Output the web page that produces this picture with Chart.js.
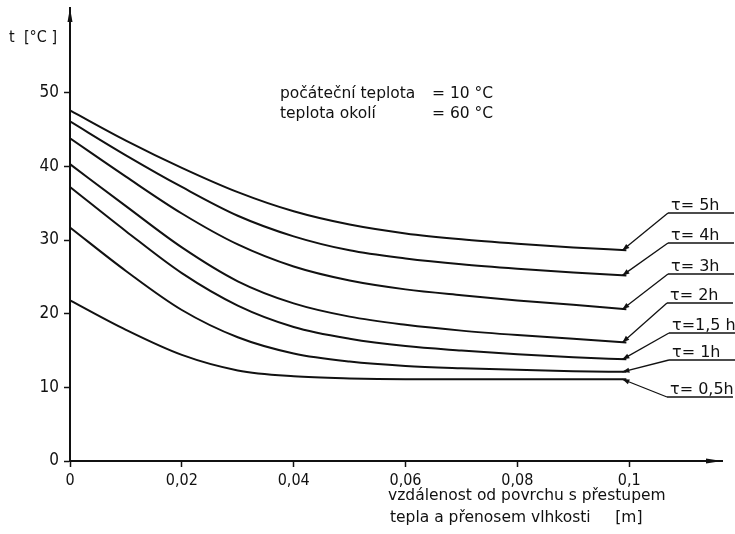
<!DOCTYPE html>
<html>
<head>
<meta charset="utf-8">
<script src="https://cdn.jsdelivr.net/npm/chart.js@4.4.1/dist/chart.umd.min.js"></script>
<style>
  html, body { margin: 0; padding: 0; background: #ffffff; }
  #wrap { width: 735px; height: 534px; position: relative; }
  canvas { display: block; }
</style>
</head>
<body>
<div id="wrap"><canvas id="c" width="735" height="534"></canvas></div>
<script>
// ---- data ----
const xValues = [0, 0.01, 0.02, 0.03, 0.04, 0.05, 0.06, 0.07, 0.08, 0.09, 0.0995];
const t5h  = [47.6, 43.5, 39.8, 36.5, 33.9, 32.1, 30.9, 30.1, 29.5, 29.0, 28.6];
const t4h  = [46.1, 41.5, 37.2, 33.3, 30.5, 28.6, 27.5, 26.7, 26.1, 25.6, 25.2];
const t3h  = [43.8, 38.6, 33.6, 29.4, 26.4, 24.5, 23.3, 22.5, 21.8, 21.2, 20.6];
const t2h  = [40.3, 34.6, 29.0, 24.4, 21.4, 19.6, 18.5, 17.7, 17.1, 16.6, 16.1];
const t15h = [37.2, 31.2, 25.5, 21.1, 18.2, 16.6, 15.6, 15.0, 14.5, 14.1, 13.8];
const t1h  = [31.7, 25.8, 20.5, 16.8, 14.6, 13.5, 12.9, 12.6, 12.4, 12.2, 12.1];
const t05h = [21.8, 17.8, 14.4, 12.3, 11.5, 11.2, 11.1, 11.1, 11.1, 11.1, 11.1];
const seriesLabels = ['τ= 5h', 'τ= 4h', 'τ= 3h', 'τ= 2h', 'τ=1,5 h', 'τ= 1h', 'τ= 0,5h'];
const yTicks = [0, 10, 20, 30, 40, 50];
const xTicks = [0, 0.02, 0.04, 0.06, 0.08, 0.1];
const xTickLabels = ['0', '0,02', '0,04', '0,06', '0,08', '0,1'];
const yTitle = ['t', '[°C ]'];
const xTitle = ['vzdálenost od povrchu s přestupem', 'tepla a přenosem vlhkosti     [m]'];
const noteLeft = ['počáteční teplota', 'teplota okolí'];
const noteRight = ['= 10 °C', '= 60 °C'];

const allSeries = [t5h, t4h, t3h, t2h, t15h, t1h, t05h];
const INK = '#111111';
const FONT = "'DejaVu Sans', sans-serif";
const FONT_C = "'DejaVu Sans Condensed', 'DejaVu Sans', sans-serif";

function toPoints(arr) { return arr.map((v, i) => ({ x: xValues[i], y: v })); }

const datasets = allSeries.map((s, i) => ({
  label: seriesLabels[i],
  data: toPoints(s),
  showLine: true,
  borderColor: INK,
  borderWidth: 2,
  pointRadius: 0,
  fill: false,
  cubicInterpolationMode: 'monotone'
}));

function arrowHead(ctx, fx, fy, tx, ty, len, half) {
  const a = Math.atan2(ty - fy, tx - fx);
  ctx.beginPath();
  ctx.moveTo(tx, ty);
  ctx.lineTo(tx - len * Math.cos(a) + half * Math.sin(a), ty - len * Math.sin(a) - half * Math.cos(a));
  ctx.lineTo(tx - len * Math.cos(a) - half * Math.sin(a), ty - len * Math.sin(a) + half * Math.cos(a));
  ctx.closePath();
  ctx.fill();
}

const decorPlugin = {
  id: 'decor',
  afterDraw(chart, args, opts) {
    const ctx = chart.ctx;
    const xs = chart.scales.x, ys = chart.scales.y;
    ctx.save();
    ctx.fillStyle = INK;
    ctx.strokeStyle = INK;

    // axis arrows
    arrowHead(ctx, xs.left, ys.bottom, xs.right, ys.bottom, 16, 2.5);
    arrowHead(ctx, xs.left, ys.bottom, xs.left, ys.top, 14, 2.5);

    // axis titles
    ctx.textBaseline = 'alphabetic';
    ctx.textAlign = 'left';
    ctx.font = '16px ' + FONT_C;
    ctx.fillText(yTitle[0], opts.yTitle.x0, opts.yTitle.y);
    ctx.fillText(yTitle[1], opts.yTitle.x1, opts.yTitle.y);
    ctx.font = '15.5px ' + FONT;
    ctx.fillText(xTitle[0], opts.xTitle.x, opts.xTitle.y0);
    ctx.fillText(xTitle[1], opts.xTitle.x + 2, opts.xTitle.y1);

    // note
    ctx.font = '15.5px ' + FONT;
    for (let i = 0; i < noteLeft.length; i++) {
      ctx.fillText(noteLeft[i], opts.note.x0, opts.note.y[i]);
      ctx.fillText(noteRight[i], opts.note.x1, opts.note.y[i]);
    }

    // series labels with leader lines
    ctx.font = '16px ' + FONT;
    ctx.lineWidth = 1.3;
    chart.data.datasets.forEach((ds, i) => {
      const L = opts.labels[i];
      const last = ds.data[ds.data.length - 1];
      const tx = xs.getPixelForValue(last.x) - 4;
      const ty = ys.getPixelForValue(last.y);
      ctx.beginPath();
      ctx.moveTo(L.ux, L.uy);
      ctx.lineTo(L.ux + 66, L.uy);
      ctx.stroke();
      ctx.beginPath();
      ctx.moveTo(L.ux, L.uy);
      ctx.lineTo(tx, ty);
      ctx.stroke();
      arrowHead(ctx, L.ux, L.uy, tx, ty, 7, 2.6);
      ctx.fillText(ds.label, L.ux + 3, L.uy - 3);
    });
    ctx.restore();
  }
};

new Chart(document.getElementById('c'), {
  type: 'scatter',
  data: { datasets },
  plugins: [decorPlugin],
  options: {
    responsive: false,
    animation: false,
    devicePixelRatio: 1,
    layout: { padding: { left: 0, right: 13, top: 8, bottom: 0 } },
    plugins: {
      legend: { display: false },
      tooltip: { enabled: false },
      decor: {
        yTitle: { x0: 9, x1: 24, y: 42 },
        xTitle: { x: 388, y0: 500, y1: 522 },
        note: { x0: 280, x1: 432, y: [98, 118] },
        labels: [
          { ux: 668, uy: 213 },
          { ux: 668, uy: 243 },
          { ux: 668, uy: 274 },
          { ux: 667, uy: 303 },
          { ux: 669, uy: 333 },
          { ux: 669, uy: 360 },
          { ux: 667, uy: 397 }
        ]
      }
    },
    scales: {
      x: {
        type: 'linear',
        min: 0,
        max: 0.1166,
        afterFit(s) { s.height = 73; s.paddingLeft = 0; s.paddingRight = 0; },
        afterBuildTicks(s) { s.ticks = xTicks.map(v => ({ value: v })); },
        border: { display: true, color: INK, width: 2 },
        grid: { display: true, drawOnChartArea: false, drawTicks: true, tickLength: 6, tickColor: INK, tickWidth: 1.5 },
        ticks: {
          color: INK,
          font: { family: FONT_C, size: 16 },
          padding: 4,
          maxRotation: 0,
          autoSkip: false,
          callback: (v, i) => xTickLabels[i]
        }
      },
      y: {
        type: 'linear',
        min: 0,
        max: 61.5,
        afterFit(s) { s.width = 70; s.paddingTop = 0; s.paddingBottom = 0; },
        afterBuildTicks(s) { s.ticks = yTicks.map(v => ({ value: v })); },
        border: { display: true, color: INK, width: 2 },
        grid: { display: true, drawOnChartArea: false, drawTicks: true, tickLength: 6, tickColor: INK, tickWidth: 1.5 },
        ticks: {
          color: INK,
          font: { family: FONT_C, size: 17 },
          padding: 5,
          autoSkip: false,
          callback: (v, i) => String(yTicks[i])
        }
      }
    }
  }
});
</script>
</body>
</html>
